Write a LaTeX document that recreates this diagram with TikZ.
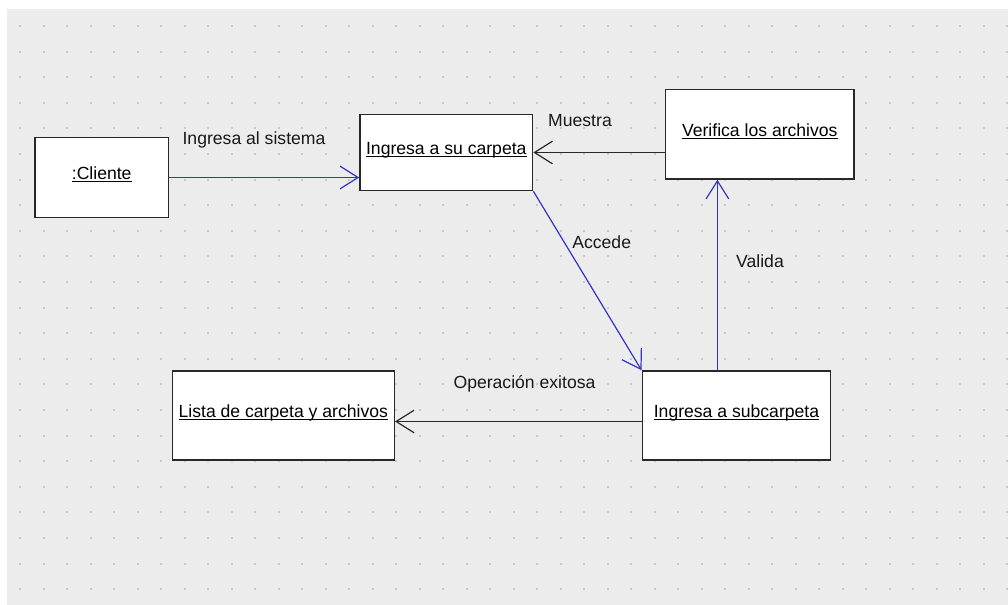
\documentclass[tikz,border=0pt]{standalone}
\usepackage{fontspec}
\setmainfont{Liberation Sans}
\usetikzlibrary{arrows.meta,calc}
\definecolor{canvas}{RGB}{236,236,236}
\definecolor{griddot}{RGB}{200,200,200}
\definecolor{linkblue}{RGB}{52,52,196}
\definecolor{boxline}{RGB}{40,40,40}
% underlined object name, the rule crossing the descenders
\newcommand\objname[1]{\setbox0\hbox{#1}\rlap{\rule[-1.9pt]{\wd0}{0.75pt}}\box0}
\begin{document}
\begin{tikzpicture}[x=0.75pt,y=-0.75pt,
  every node/.style={font=\fontsize{13.2pt}{15pt}\selectfont},
  object/.style 2 args={draw=boxline, line width=1.1pt, fill=white, inner sep=0pt,
    minimum width=#1*0.75pt, minimum height=#2*0.75pt, text height=5pt, text depth=1.7pt},
  msglabel/.style={anchor=base, inner sep=0pt, text=black!90},
  link/.style={line width=0.9pt, -{Straight Barb[length=13.5pt,width=17pt]}},
  bluelink/.style={link, draw=linkblue},
  blacklink/.style={link, draw=boxline}]
\useasboundingbox (0,0) rectangle (1008,605);
% dotted canvas
\fill[white] (0,0) rectangle (1008,605);
\fill[canvas] (7,9) rectangle (1008,605);
\foreach \i in {0,...,42}{
  \foreach \j in {0,...,22}{
    \fill[griddot] ({20+23.5*\i-1},{26+25.6*\j-1}) rectangle ++(2,2);
  }
}
% objects
\node[object={133.3}{80}]   (cliente)  at (101.7,177.5) {\objname{:Cliente}};
\node[object={172.7}{76}]   (carpeta)  at (446.3,152.5) {\objname{Ingresa a su carpeta}};
\node[object={188.3}{89.7}] (verifica) at (759.8,134.2) {\objname{Verifica los archivos}};
\node[object={188.4}{89}]   (sub)      at (736.5,415.5) {\objname{Ingresa a subcarpeta}};
\node[object={222}{89}]     (lista)    at (283.3,415.5) {\objname{Lista de carpeta y archivos}};
% messages
\draw[bluelink] (cliente.east) -- (cliente.east -| carpeta.west);
\draw[blacklink] (verifica.west |- carpeta.east) -- (carpeta.east);
\draw[bluelink] (carpeta.south east) -- (sub.north west);
\coordinate (valfoot) at ($(sub.north west)!0.3995!(sub.north east)$);
\draw[bluelink] (valfoot) -- (valfoot |- verifica.south);
\coordinate (okfoot) at ($(sub.west)+(0,6)$);
\draw[blacklink] (okfoot) -- (okfoot -| lista.east);
% message labels
\node[msglabel] (l1) at (254,145)     {Ingresa al sistema};
\node[msglabel] (l2) at (580,126.7)   {Muestra};
\node[msglabel] (l3) at (601.7,248.3) {Accede};
\node[msglabel] (l4) at (760,267.3)   {Valida};
\node[msglabel] (l5) at (524.5,389)   {Operación exitosa};
\end{tikzpicture}
\end{document}
